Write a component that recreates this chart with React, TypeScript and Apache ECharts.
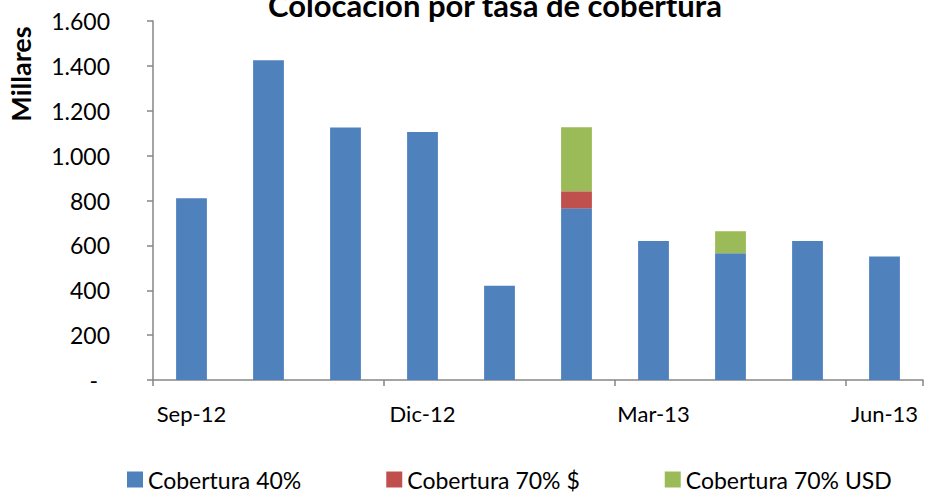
import React, { useEffect, useRef } from "react";
import * as echarts from "echarts";

const categories = ["Sep-12", "Oct-12", "Nov-12", "Dic-12", "Ene-13", "Feb-13", "Mar-13", "Abr-13", "May-13", "Jun-13"];
const cobertura40 = [810, 1425, 1125, 1105, 420, 765, 620, 565, 620, 550];
const cobertura70Pesos = [null, null, null, null, null, 76, null, null, null, null];
const cobertura70Usd = [null, null, null, null, null, 285, null, 98, null, null];
const seriesNames = ["Cobertura 40%", "Cobertura 70% $", "Cobertura 70% USD"];
const colors = ["#4F81BD", "#C0504D", "#9BBB59"];

const FONT = "Lato";

function fmt(v: number): string {
  if (v === 0) return "{d|-}";
  return String(v).replace(/\B(?=(\d{3})+(?!\d))/g, ".");
}

export default function App() {
  const ref = useRef<HTMLDivElement>(null);
  useEffect(() => {
    if (!ref.current) return;
    const chart = echarts.init(ref.current, null, { renderer: "svg" });
    const data = [cobertura40, cobertura70Pesos, cobertura70Usd];
    chart.setOption({
      animation: false,
      textStyle: { fontFamily: FONT },
      graphic: [
        {
          type: "text",
          x: 495,
          y: 5,
          style: {
            text: "Colocación por tasa de cobertura",
            fontFamily: FONT,
            fontWeight: "bold",
            fontSize: 31,
            fill: "#000",
            align: "center",
            verticalAlign: "middle",
          },
        },
        {
          type: "text",
          x: 20,
          y: 74,
          rotation: Math.PI / 2,
          style: {
            text: "Millares",
            fontFamily: FONT,
            fontWeight: "bold",
            fontSize: 27,
            fill: "#000",
            align: "center",
            verticalAlign: "middle",
          },
        },
      ],
      legend: {
        left: 122,
        top: 463,
        itemWidth: 16,
        itemHeight: 16,
        itemGap: 85,
        icon: "rect",
        textStyle: { fontFamily: FONT, fontSize: 23, color: "#000", padding: [0, 0, 0, 0] },
        data: seriesNames,
      },
      grid: { left: 153, right: 2, top: 21, bottom: 113, containLabel: false },
      xAxis: {
        type: "category",
        data: categories,
        boundaryGap: true,
        axisLine: { lineStyle: { color: "#868686", width: 1.5 } },
        axisTick: { show: true, interval: 2, alignWithLabel: false, length: 6, lineStyle: { color: "#868686", width: 1.5 } },
        axisLabel: { interval: 2, margin: 22, fontFamily: FONT, fontSize: 22, color: "#000" },
      },
      yAxis: {
        type: "value",
        min: 0,
        max: 1600,
        interval: 200,
        splitLine: { show: false },
        axisLine: { show: true, lineStyle: { color: "#868686", width: 1.5 } },
        axisTick: { show: true, length: 6, lineStyle: { color: "#868686", width: 1.5 } },
        axisLabel: {
          margin: 43,
          fontFamily: FONT,
          fontSize: 23,
          color: "#000",
          formatter: fmt,
          rich: { d: { fontFamily: FONT, fontSize: 23, color: "#000", padding: [0, 12, 0, 0] } },
        },
      },
      series: seriesNames.map((name, i) => ({
        name,
        type: "bar",
        stack: "total",
        barWidth: "40%",
        itemStyle: { color: colors[i] },
        data: data[i],
      })),
    });
    return () => chart.dispose();
  }, []);
  return <div ref={ref} style={{ width: 925, height: 493, position: "absolute", left: 0, top: 0 }} />;
}
